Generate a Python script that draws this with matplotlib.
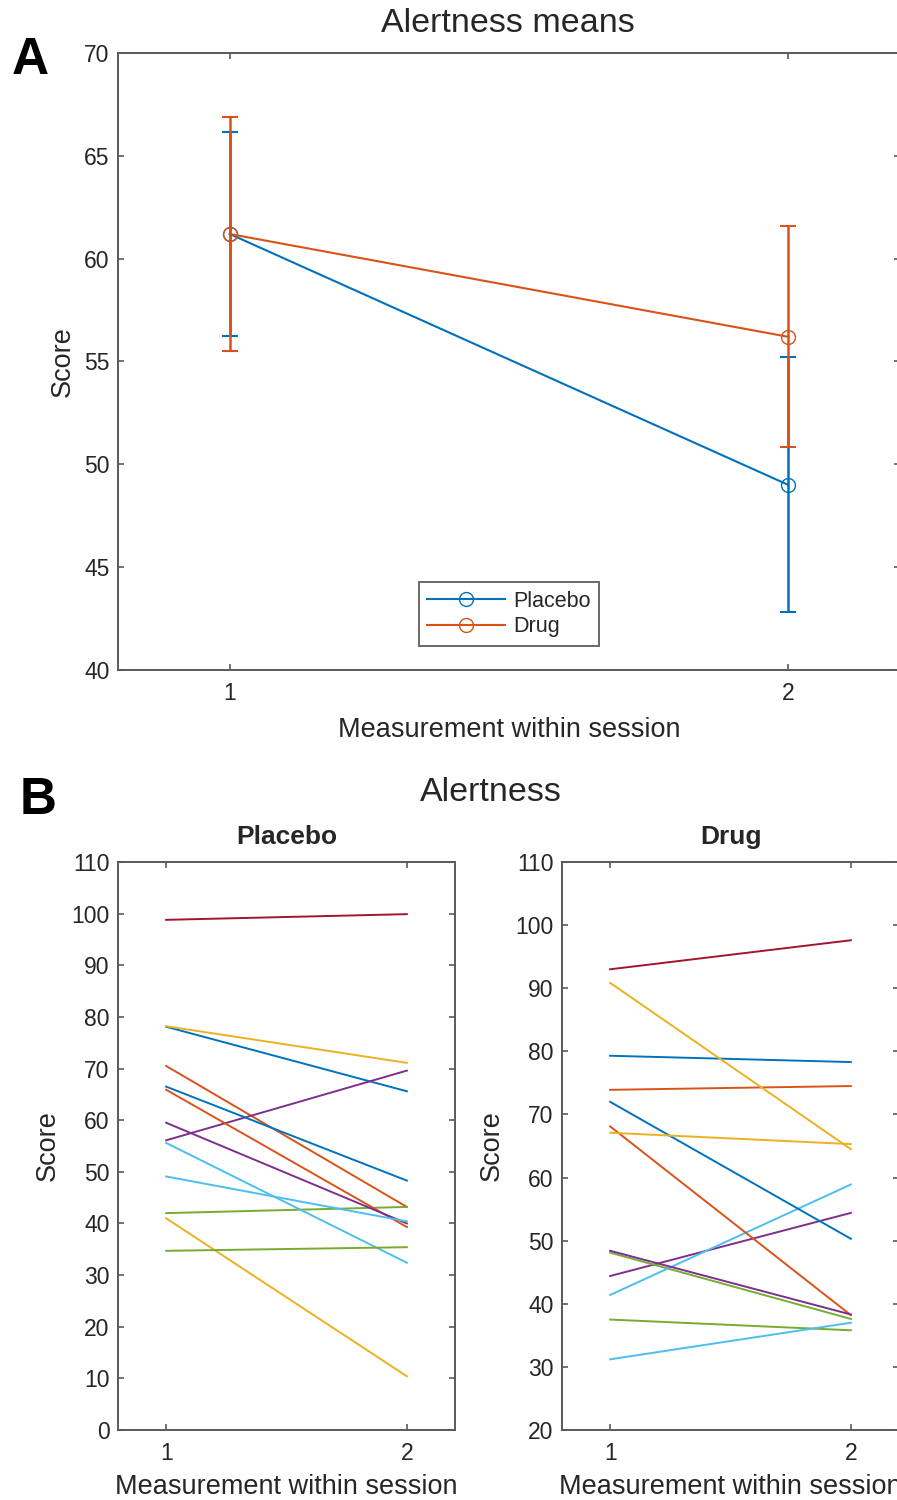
import numpy as np
import matplotlib
matplotlib.use("Agg")
import matplotlib.pyplot as plt
from matplotlib.lines import Line2D

plt.rcParams["font.family"] = ["Liberation Sans", "DejaVu Sans"]

# ── data ─────────────────────────────────────────────────────────────────────
measurements = [1, 2]

placebo_mean = [61.2, 49.0]
placebo_err = [4.95, 6.2]
drug_mean = [61.2, 56.2]
drug_err = [5.7, 5.37]

# per-subject scores (measurement 1, measurement 2), subject order = plot order
placebo_m1 = [78.1, 70.5, 78.2, 56.1, 42.0, 55.6, 98.8, 66.5, 65.9, 41.0, 59.5, 34.7, 49.1]
placebo_m2 = [65.6, 43.2, 71.1, 69.6, 43.2, 32.4, 99.9, 48.3, 39.3, 10.4, 40.0, 35.4, 40.4]

drug_m1 = [79.3, 73.9, 90.85, 44.4, 48.1, 41.4, 93.0, 72.0, 68.1, 67.1, 48.4, 37.5, 31.2]
drug_m2 = [78.3, 74.5, 64.5, 54.4, 37.6, 58.9, 97.6, 50.3, 38.2, 65.3, 38.3, 35.8, 37.0]

# MATLAB default line colour order
line_colors = ["#0072BD", "#D95319", "#EDB120", "#7E2F8E",
               "#77AC30", "#4DBEEE", "#A2142F"]

TXT = "#262626"
SPINE = "#5a5a5a"
W, H = 897, 1500


def style_axes(ax):
    for s in ax.spines.values():
        s.set_color(SPINE)
        s.set_linewidth(1.4)
    ax.tick_params(direction="in", length=4.5, width=1.2, color=SPINE,
                   top=True, right=True, labelsize=16.5, labelcolor=TXT)
    ax.tick_params(axis="y", pad=6)
    ax.tick_params(axis="x", pad=9)


fig = plt.figure(figsize=(W / 100, H / 100), dpi=100)

# ── panel A: means with error bars ───────────────────────────────────────────
axA = fig.add_axes([118 / W, 1 - 670 / H, (900 - 118) / W, (670 - 53) / H])
for mean, err, c in [(placebo_mean, placebo_err, line_colors[0]),
                     (drug_mean, drug_err, line_colors[1])]:
    axA.errorbar(measurements, mean, yerr=err, color=c, marker="o", mfc="none",
                 ms=10, lw=1.5, capsize=6, elinewidth=1.8, capthick=1.5)
axA.set_xlim(0.8, 2.2)
axA.set_ylim(40, 70)
axA.set_xticks(measurements)
axA.set_yticks(np.arange(40, 71, 5))
style_axes(axA)
axA.set_xlabel("Measurement within session", fontsize=19.5, color=TXT, labelpad=8)
axA.set_ylabel("Score", fontsize=19.5, color=TXT, labelpad=6)

handles = [Line2D([], [], color=line_colors[0], marker="o", mfc="none", ms=10, lw=1.5),
           Line2D([], [], color=line_colors[1], marker="o", mfc="none", ms=10, lw=1.5)]
leg = axA.legend(handles, ["Placebo", "Drug"], loc="lower center",
                 bbox_to_anchor=(0.5, 0.022), fontsize=15.5, frameon=True,
                 fancybox=False, handlelength=3.6, borderpad=0.4,
                 labelspacing=0.2, handletextpad=0.4)
leg.get_frame().set_edgecolor("#444444")
leg.get_frame().set_linewidth(1.4)
for t in leg.get_texts():
    t.set_color(TXT)
fig.text(508 / W, 1 - 23 / H, "Alertness means", fontsize=24.5, color=TXT,
         ha="center", va="center")
fig.text(12 / W, 1 - 61 / H, "A", fontsize=37, fontweight="bold",
         ha="left", va="center")

# ── panel B: individual subjects ─────────────────────────────────────────────
bottom, top = 1 - 1430 / H, 1 - 862 / H
axP = fig.add_axes([118 / W, bottom, (455 - 118) / W, top - bottom])
axD = fig.add_axes([562 / W, bottom, (899 - 562) / W, top - bottom])

for i in range(len(placebo_m1)):
    axP.plot(measurements, [placebo_m1[i], placebo_m2[i]],
             color=line_colors[i % 7], lw=1.4)
for i in range(len(drug_m1)):
    axD.plot(measurements, [drug_m1[i], drug_m2[i]],
             color=line_colors[i % 7], lw=1.4)

axP.set_ylim(0, 110)
axP.set_yticks(np.arange(0, 111, 10))
axD.set_ylim(20, 110)
axD.set_yticks(np.arange(20, 111, 10))
for ax, name in [(axP, "Placebo"), (axD, "Drug")]:
    ax.set_xlim(0.8, 2.2)
    ax.set_xticks(measurements)
    style_axes(ax)
    ax.set_xlabel("Measurement within session", fontsize=19.5, color=TXT, labelpad=6)
    ax.set_ylabel("Score", fontsize=19.5, color=TXT, labelpad=8)
    ax.set_title(name, fontsize=19, fontweight="bold", color=TXT, pad=13)

fig.text(491 / W, 1 - 793 / H, "Alertness", fontsize=24.5, color=TXT,
         ha="center", va="center")
fig.text(20 / W, 1 - 801 / H, "B", fontsize=37, fontweight="bold",
         ha="left", va="center")

fig.savefig("out.png", dpi=100, facecolor="white")
